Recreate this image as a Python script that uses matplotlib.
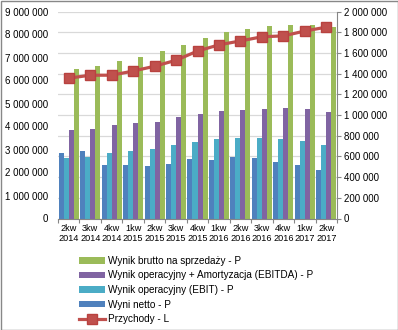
import matplotlib

matplotlib.use("Agg")
import matplotlib.pyplot as plt
import numpy as np
from matplotlib.patches import Rectangle
from matplotlib.ticker import FuncFormatter, FixedLocator

plt.rcParams["font.family"] = ["Liberation Sans", "DejaVu Sans"]

quarters = ["2kw\n2014", "3kw\n2014", "4kw\n2014", "1kw\n2015", "2kw\n2015", "3kw\n2015",
            "4kw\n2015", "1kw\n2016", "2kw\n2016", "3kw\n2016", "4kw\n2016", "1kw\n2017",
            "2kw\n2017"]

# right axis (P)
wynik_netto = [632000, 652000, 516000, 516000, 506000, 526000, 574000, 565000, 594000,
               584000, 545000, 516000, 468000]
ebit = [584000, 594000, 632000, 652000, 671000, 710000, 739000, 768000, 777000,
        777000, 768000, 748000, 710000]
ebitda = [855000, 865000, 903000, 923000, 932000, 981000, 1010000, 1039000, 1048000,
          1058000, 1068000, 1058000, 1029000]
brutto = [1445000, 1474000, 1523000, 1561000, 1619000, 1677000, 1745000, 1803000, 1832000,
          1861000, 1871000, 1871000, 1852000]

# left axis (L)
przychody = [6100000, 6230000, 6230000, 6410000, 6620000, 6880000, 7280000, 7550000,
             7720000, 7900000, 7940000, 8150000, 8320000]

C_BLUE = "#4F81BD"
C_TEAL = "#4BACC6"
C_PURPLE = "#8064A2"
C_GREEN = "#9BBB59"
C_RED = "#C0504D"
C_AXIS = "#868686"


def spaced(v, pos=None):
    return f"{int(round(v)):,}".replace(",", " ")


fig = plt.figure(figsize=(3.98, 3.30), dpi=100)
ax_r = fig.add_axes([58 / 398, 1 - 218.5 / 330, 279 / 398, 207 / 330])
ax_l = ax_r.twinx()

x = np.arange(len(quarters))
w = 0.233
series = [
    (wynik_netto, C_BLUE, "Wyni netto - P"),
    (ebit, C_TEAL, "Wynik operacyjny (EBIT) - P"),
    (ebitda, C_PURPLE, "Wynik operacyjny + Amortyzacja (EBITDA) - P"),
    (brutto, C_GREEN, "Wynik brutto na sprzedaży - P"),
]
bars = []
for i, (vals, col, lab) in enumerate(series):
    b = ax_r.bar(x + (i - 1.5) * w, vals, w, color=col, label=lab, zorder=2)
    bars.append(b)

ax_r.set_ylim(0, 2000000)
ax_r.set_yticks(np.arange(0, 2000001, 200000))
ax_r.yaxis.set_major_formatter(FuncFormatter(spaced))
ax_r.yaxis.tick_right()
ax_r.grid(axis="y", color="#D9D9D9", linewidth=0.9, zorder=0)
ax_r.set_axisbelow(True)
ax_r.set_xlim(-0.5, len(quarters) - 0.5)
ax_r.set_xticks(x)
ax_r.set_xticklabels(quarters, fontsize=6.6, linespacing=1.15)
ax_r.xaxis.set_minor_locator(FixedLocator(np.arange(-0.5, len(quarters), 1.0)))
ax_r.tick_params(axis="x", which="major", length=0, pad=4)
ax_r.tick_params(axis="x", which="minor", length=3, color=C_AXIS, width=0.8)
ax_r.tick_params(axis="y", labelsize=7, length=3, color=C_AXIS, width=0.8, pad=2,
                 right=True, left=False, labelright=True, labelleft=False)

line, = ax_l.plot(x, przychody, color=C_RED, linewidth=2.3, marker="s", markersize=7,
                  markerfacecolor=C_RED, markeredgecolor="#B8423F", label="Przychody - L")
ax_l.set_ylim(0, 9000000)
ax_l.set_yticks(np.arange(0, 9000001, 1000000))
ax_l.yaxis.set_major_formatter(FuncFormatter(spaced))
ax_l.yaxis.tick_left()
ax_l.tick_params(axis="y", labelsize=7, length=0, pad=7, left=False, right=False,
                 labelleft=True, labelright=False)

for a in (ax_r, ax_l):
    a.spines["top"].set_visible(False)
    a.spines["left"].set_visible(False)
    a.spines["right"].set_color(C_AXIS)
    a.spines["bottom"].set_color(C_AXIS)
    a.patch.set_visible(False)
ax_l.spines["right"].set_visible(False)
ax_l.spines["bottom"].set_visible(False)

handles = [bars[3], bars[2], bars[1], bars[0], line]
labels = [h.get_label() for h in handles]
fig.legend(handles, labels, loc="upper left", bbox_to_anchor=(79 / 398, 1 - 256 / 330),
           frameon=False, fontsize=7.2, borderpad=0, borderaxespad=0, handlelength=2.6,
           handleheight=0.6, handletextpad=0.3, labelspacing=0.45)

fig.add_artist(Rectangle((0.5 / 398, 0.5 / 330), 397 / 398, 329 / 330,
                         transform=fig.transFigure, fill=False, edgecolor="#888888",
                         linewidth=1))

fig.savefig("out.png", dpi=100)
plt.close(fig)
